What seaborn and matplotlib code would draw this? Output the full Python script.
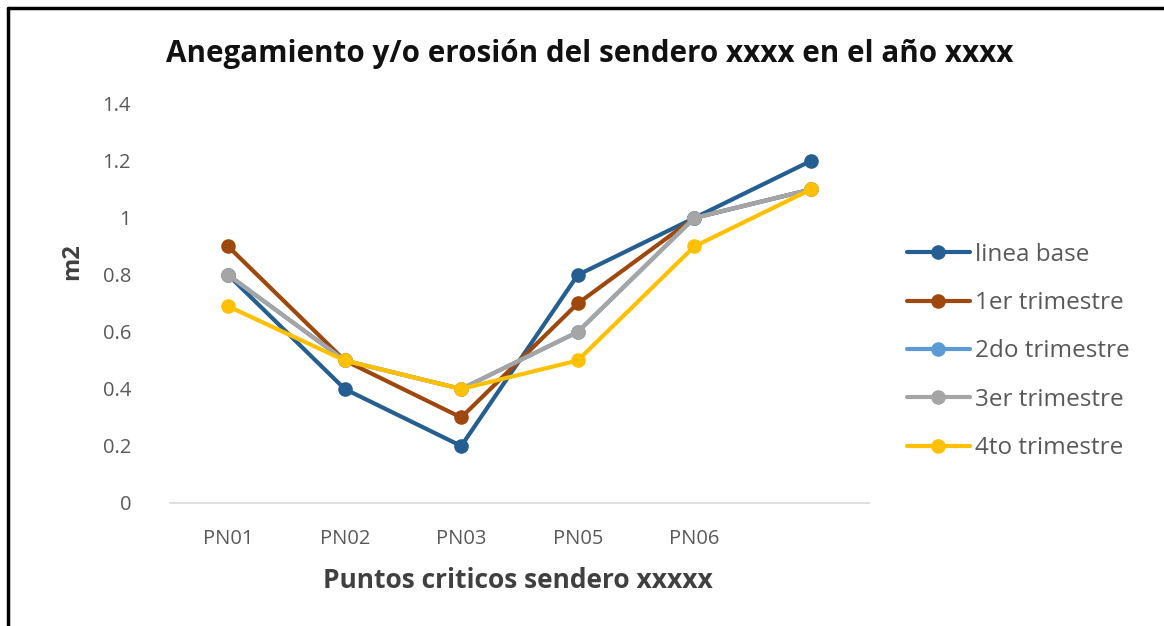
import matplotlib
matplotlib.use("Agg")
import matplotlib.pyplot as plt
from matplotlib.lines import Line2D
import seaborn as sns
import pandas as pd

# Critical points along the trail (last position has no label)
puntos = ["PN01", "PN02", "PN03", "PN05", "PN06", ""]

series_names = ["linea base", "1er trimestre", "2do trimestre", "3er trimestre", "4to trimestre"]
linea_base = [0.8, 0.4, 0.2, 0.8, 1.0, 1.2]
trim_1 = [0.9, 0.5, 0.3, 0.7, 1.0, 1.1]
trim_2 = [0.8, 0.5, 0.4, 0.6, 1.0, 1.1]
trim_3 = [0.8, 0.5, 0.4, 0.6, 1.0, 1.1]
trim_4 = [0.69, 0.5, 0.4, 0.5, 0.9, 1.1]

colors = ["#255E91", "#9E480E", "#5B9BD5", "#A5A5A5", "#FFC000"]
yticks = [0, 0.2, 0.4, 0.6, 0.8, 1, 1.2, 1.4]

rows = []
for name, vals in zip(series_names, [linea_base, trim_1, trim_2, trim_3, trim_4]):
    for i, v in enumerate(vals):
        rows.append({"pos": i, "serie": name, "m2": v})
df = pd.DataFrame(rows)

sns.set_theme(style="white")
plt.rcParams["font.family"] = ["Open Sans", "DejaVu Sans"]

fig = plt.figure(figsize=(11.64, 6.26), dpi=100)
ax = fig.add_axes([0.146, 0.1965, 0.6006, 0.6374])

palette = dict(zip(series_names, colors))
sns.lineplot(data=df, x="pos", y="m2", hue="serie", hue_order=series_names,
             palette=palette, style="serie", markers=["o"] * 5, dashes=False,
             sort=False, linewidth=3, markersize=10.5, markeredgewidth=0,
             legend=False, ax=ax)

ax.set_xlim(-0.5, len(puntos) - 0.5)
ax.set_ylim(0, 1.4)
ax.set_xticks(range(len(puntos)))
ax.set_xticklabels(puntos)
ax.set_yticks(yticks)
ax.set_yticklabels([f"{t:g}" for t in yticks])
ax.tick_params(axis="both", length=0, labelsize=14.5, colors="#595959")
ax.tick_params(axis="y", pad=28)
ax.tick_params(axis="x", pad=19)
for side in ["top", "right", "left"]:
    ax.spines[side].set_visible(False)
ax.spines["bottom"].set_color("#D9D9D9")
ax.spines["bottom"].set_linewidth(1.2)

ax.set_xlabel("Puntos criticos sendero xxxxx", fontsize=19, fontweight="bold",
              color="#404040")
ax.xaxis.set_label_coords(0.498, -0.195)
ax.xaxis.label.set_va("center")
ax.set_ylabel("m2", fontsize=17, fontweight="bold", color="#404040")
ax.yaxis.set_label_coords(-0.14, 0.604)
ax.yaxis.label.set_va("center")

fig.text(0.507, 0.914, "Anegamiento y/o erosión del sendero xxxx en el año xxxx",
         ha="center", va="center", fontsize=21.3, fontweight="bold", color="#111111")

handles = [Line2D([0], [0], color=c, lw=3, marker="o", markersize=10.5,
                  markeredgewidth=0) for c in colors]
fig.legend(handles, series_names, loc="center left", bbox_to_anchor=(0.760, 0.4385),
           frameon=False, fontsize=17.5, labelcolor="#595959", handlelength=2.6,
           handletextpad=0.2, labelspacing=1.0)

# frame lines along the top and left edges
fig.add_artist(Line2D([8 / 1164, 1], [1 - 8 / 626, 1 - 8 / 626], color="black",
                      lw=2.5, transform=fig.transFigure))
fig.add_artist(Line2D([8 / 1164, 8 / 1164], [0, 1 - 8 / 626], color="black",
                      lw=2.5, transform=fig.transFigure))

fig.savefig("out.png", dpi=100, facecolor="white")
